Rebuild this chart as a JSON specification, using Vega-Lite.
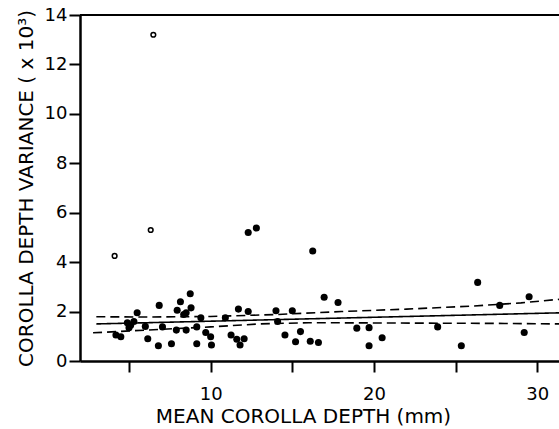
{
  "$schema": "https://vega.github.io/schema/vega-lite/v6.json",
  "autosize": {"type": "none"},
  "padding": {"left": 80, "top": 15, "right": 0, "bottom": 68},
  "width": 479,
  "height": 346,
  "background": "white",
  "config": {
    "view": {"stroke": null},
    "axis": {
      "labelFont": "DejaVu Sans",
      "titleFont": "DejaVu Sans",
      "labelFontSize": 18,
      "titleFontSize": 18,
      "titleFontWeight": "normal",
      "labelColor": "black",
      "titleColor": "black",
      "domainColor": "black",
      "domainWidth": 2.5,
      "tickColor": "black",
      "tickWidth": 2,
      "tickSize": 11,
      "grid": false
    },
    "axisX": {"labelPadding": 13, "titlePadding": 3, "titleX": 223, "titleFontSize": 20},
    "axisY": {"labelPadding": 2, "titlePadding": 8, "titleFontSize": 20}
  },
  "datasets": {
    "points": [
      {"x": 4.12, "y": 4.25, "type": "open"},
      {"x": 6.33, "y": 5.3, "type": "open"},
      {"x": 6.49, "y": 13.2, "type": "open"},
      {"x": 4.2, "y": 1.05, "type": "filled"},
      {"x": 4.5, "y": 0.98, "type": "filled"},
      {"x": 4.9, "y": 1.55, "type": "filled"},
      {"x": 5.1, "y": 1.45, "type": "filled"},
      {"x": 5.0, "y": 1.35, "type": "filled"},
      {"x": 5.3, "y": 1.6, "type": "filled"},
      {"x": 5.5, "y": 1.95, "type": "filled"},
      {"x": 6.0, "y": 1.4, "type": "filled"},
      {"x": 6.15, "y": 0.9, "type": "filled"},
      {"x": 6.8, "y": 0.62, "type": "filled"},
      {"x": 6.85, "y": 2.25, "type": "filled"},
      {"x": 7.05, "y": 1.38, "type": "filled"},
      {"x": 7.6, "y": 0.7, "type": "filled"},
      {"x": 7.9, "y": 1.25, "type": "filled"},
      {"x": 7.95, "y": 2.05, "type": "filled"},
      {"x": 8.15, "y": 2.4, "type": "filled"},
      {"x": 8.35, "y": 1.88, "type": "filled"},
      {"x": 8.5, "y": 1.95, "type": "filled"},
      {"x": 8.75, "y": 2.72, "type": "filled"},
      {"x": 8.8, "y": 2.15, "type": "filled"},
      {"x": 8.5, "y": 1.25, "type": "filled"},
      {"x": 9.15, "y": 1.38, "type": "filled"},
      {"x": 9.15, "y": 0.7, "type": "filled"},
      {"x": 9.4, "y": 1.75, "type": "filled"},
      {"x": 9.7, "y": 1.15, "type": "filled"},
      {"x": 10.0, "y": 0.98, "type": "filled"},
      {"x": 10.05, "y": 0.65, "type": "filled"},
      {"x": 10.9, "y": 1.75, "type": "filled"},
      {"x": 11.25, "y": 1.05, "type": "filled"},
      {"x": 11.7, "y": 2.1, "type": "filled"},
      {"x": 11.6, "y": 0.88, "type": "filled"},
      {"x": 11.8, "y": 0.65, "type": "filled"},
      {"x": 12.05, "y": 0.9, "type": "filled"},
      {"x": 12.3, "y": 2.0, "type": "filled"},
      {"x": 12.3, "y": 5.2, "type": "filled"},
      {"x": 12.8, "y": 5.38, "type": "filled"},
      {"x": 14.0, "y": 2.03, "type": "filled"},
      {"x": 14.1, "y": 1.6, "type": "filled"},
      {"x": 14.55, "y": 1.05, "type": "filled"},
      {"x": 15.0, "y": 2.03, "type": "filled"},
      {"x": 15.2, "y": 0.78, "type": "filled"},
      {"x": 15.5, "y": 1.19, "type": "filled"},
      {"x": 16.1, "y": 0.8, "type": "filled"},
      {"x": 16.25, "y": 4.45, "type": "filled"},
      {"x": 16.6, "y": 0.75, "type": "filled"},
      {"x": 16.95, "y": 2.58, "type": "filled"},
      {"x": 17.8, "y": 2.37, "type": "filled"},
      {"x": 18.95, "y": 1.33, "type": "filled"},
      {"x": 19.7, "y": 1.35, "type": "filled"},
      {"x": 19.7, "y": 0.62, "type": "filled"},
      {"x": 20.5, "y": 0.94, "type": "filled"},
      {"x": 23.9, "y": 1.38, "type": "filled"},
      {"x": 25.35, "y": 0.62, "type": "filled"},
      {"x": 26.35, "y": 3.18, "type": "filled"},
      {"x": 27.7, "y": 2.25, "type": "filled"},
      {"x": 29.2, "y": 1.15, "type": "filled"},
      {"x": 29.5, "y": 2.6, "type": "filled"}
    ],
    "lines": [
      {"x": 3.0, "y": 1.5, "series": "fit"},
      {"x": 31.4, "y": 1.95, "series": "fit"},
      {"x": 3.0, "y": 1.79, "series": "upper"},
      {"x": 6, "y": 1.78, "series": "upper"},
      {"x": 10, "y": 1.8, "series": "upper"},
      {"x": 14, "y": 1.88, "series": "upper"},
      {"x": 18, "y": 2.0, "series": "upper"},
      {"x": 22, "y": 2.1, "series": "upper"},
      {"x": 26, "y": 2.22, "series": "upper"},
      {"x": 29, "y": 2.35, "series": "upper"},
      {"x": 31.4, "y": 2.5, "series": "upper"},
      {"x": 2.8, "y": 1.14, "series": "lower"},
      {"x": 6, "y": 1.25, "series": "lower"},
      {"x": 10, "y": 1.38, "series": "lower"},
      {"x": 13, "y": 1.5, "series": "lower"},
      {"x": 16, "y": 1.55, "series": "lower"},
      {"x": 20, "y": 1.54, "series": "lower"},
      {"x": 24, "y": 1.53, "series": "lower"},
      {"x": 28, "y": 1.52, "series": "lower"},
      {"x": 31.4, "y": 1.5, "series": "lower"}
    ]
  },
  "layer": [
    {
      "data": {"values": [{}]},
      "mark": {"type": "rule", "color": "black", "strokeWidth": 2},
      "encoding": {
        "y": {
          "datum": 14, "type": "quantitative",
          "scale": {"domain": [0, 14], "nice": false},
          "axis": {"title": "COROLLA DEPTH VARIANCE ( x 10³)", "values": [0, 2, 4, 6, 8, 10, 12, 14]}
        }
      }
    },
    {
      "data": {"name": "lines"},
      "mark": {"type": "line", "color": "black", "strokeWidth": 1.6, "clip": true},
      "encoding": {
        "x": {
          "field": "x", "type": "quantitative",
          "scale": {"domain": [2, 31.33], "nice": false, "zero": false},
          "axis": {
            "title": "MEAN COROLLA DEPTH (mm)",
            "values": [5, 10, 15, 20, 25, 30],
            "labelExpr": "datum.value % 10 == 0 ? datum.label : ''"
          }
        },
        "y": {
          "field": "y", "type": "quantitative",
          "scale": {"domain": [0, 14], "nice": false},
          "axis": {"title": "COROLLA DEPTH VARIANCE ( x 10³)", "values": [0, 2, 4, 6, 8, 10, 12, 14]}
        },
        "detail": {"field": "series"},
        "strokeDash": {
          "field": "series", "type": "nominal",
          "scale": {"domain": ["fit", "upper", "lower"], "range": [[1, 0], [9, 5], [9, 5]]},
          "legend": null
        }
      }
    },
    {
      "data": {"name": "points"},
      "transform": [{"filter": "datum.type == 'filled'"}],
      "mark": {"type": "circle", "color": "black", "opacity": 1, "size": 50},
      "encoding": {
        "x": {
          "field": "x", "type": "quantitative",
          "scale": {"domain": [2, 31.33], "nice": false, "zero": false},
          "axis": {
            "title": "MEAN COROLLA DEPTH (mm)",
            "values": [5, 10, 15, 20, 25, 30],
            "labelExpr": "datum.value % 10 == 0 ? datum.label : ''"
          }
        },
        "y": {
          "field": "y", "type": "quantitative",
          "scale": {"domain": [0, 14], "nice": false},
          "axis": {"title": "COROLLA DEPTH VARIANCE ( x 10³)", "values": [0, 2, 4, 6, 8, 10, 12, 14]}
        }
      }
    },
    {
      "data": {"name": "points"},
      "transform": [{"filter": "datum.type == 'open'"}],
      "mark": {"type": "point", "shape": "circle", "filled": false, "stroke": "black", "strokeWidth": 1.5, "opacity": 1, "size": 22},
      "encoding": {
        "x": {
          "field": "x", "type": "quantitative",
          "scale": {"domain": [2, 31.33], "nice": false, "zero": false},
          "axis": {
            "title": "MEAN COROLLA DEPTH (mm)",
            "values": [5, 10, 15, 20, 25, 30],
            "labelExpr": "datum.value % 10 == 0 ? datum.label : ''"
          }
        },
        "y": {
          "field": "y", "type": "quantitative",
          "scale": {"domain": [0, 14], "nice": false},
          "axis": {"title": "COROLLA DEPTH VARIANCE ( x 10³)", "values": [0, 2, 4, 6, 8, 10, 12, 14]}
        }
      }
    }
  ]
}
